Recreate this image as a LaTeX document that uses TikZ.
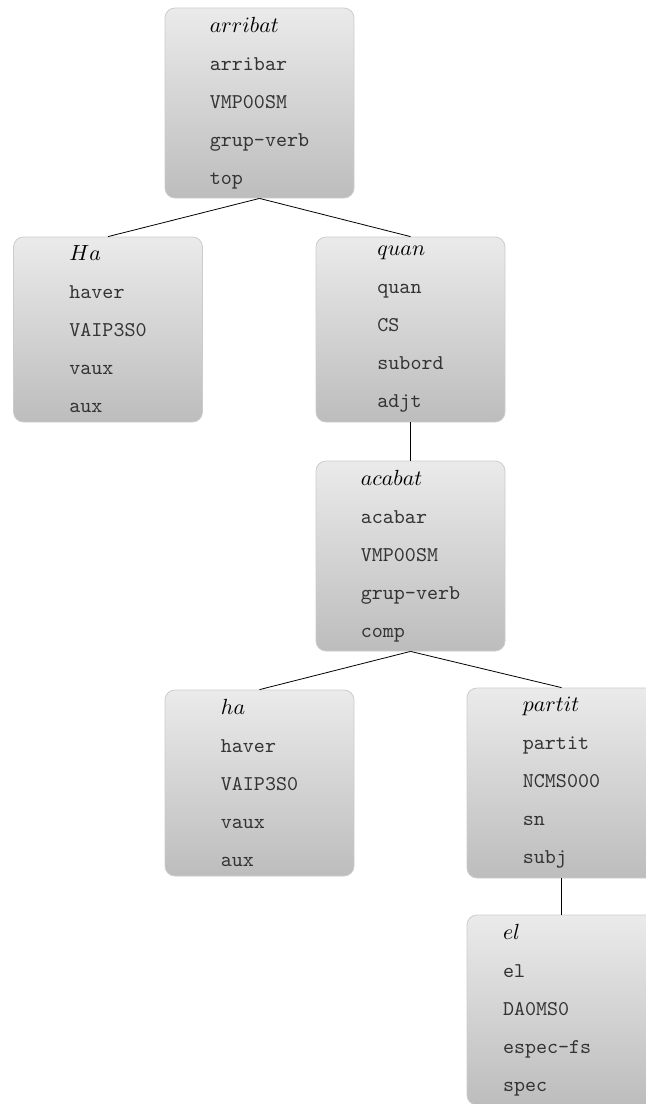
\documentclass[tikz,border=0pt]{standalone}
\usetikzlibrary{positioning}

\begin{document}
\begin{tikzpicture}[
    x=0.5pt, y=-0.5pt,
    every node/.style={align=left},
    word/.style={rectangle, draw=black!20, rounded corners=5pt, top color=black!8, bottom color=black!26, minimum width=94.5pt, minimum height=95pt, inner sep=0pt, font=\fontsize{10.5}{19}\selectfont\ttfamily, text=black!80},
    short/.style={minimum height=92.5pt},
    link/.style={line width=0.4pt}
]
\newcommand{\wform}[1]{\textcolor{black}{$#1$}}
\useasboundingbox (0,0) rectangle (646,1104);
\clip (0,0) rectangle (646,1104);
\node[word] (arribat) at (259.5,103) {\wform{arribat}\\arribar\\VMP00SM\\grup-verb\\top};
\node[word, short] (Ha) at (108,329.5) {\wform{Ha}\\haver\\VAIP3S0\\vaux\\aux};
\node[word, short] (quan) at (410.5,329.5) {\wform{quan}\\quan\\CS\\subord\\adjt};
\node[word] (acabat) at (410.5,556) {\wform{acabat}\\acabar\\VMP00SM\\grup-verb\\comp};
\node[word, minimum height=93pt] (ha) at (259.5,783) {\wform{ha}\\haver\\VAIP3S0\\vaux\\aux};
\node[word] (partit) at (561.5,783) {\wform{partit}\\partit\\NCMS000\\sn\\subj};
\node[word, text width=58.5pt] (el) at (561.5,1010) {\wform{el}\\el\\DA0MS0\\espec-fs\\spec};
\draw[link] (arribat.south) -- (Ha.north);
\draw[link] (arribat.south) -- (quan.north);
\draw[link] (quan.south) -- (acabat.north);
\draw[link] (acabat.south) -- (ha.north);
\draw[link] (acabat.south) -- (partit.north);
\draw[link] (partit.south) -- (el.north);
\end{tikzpicture}
\end{document}
